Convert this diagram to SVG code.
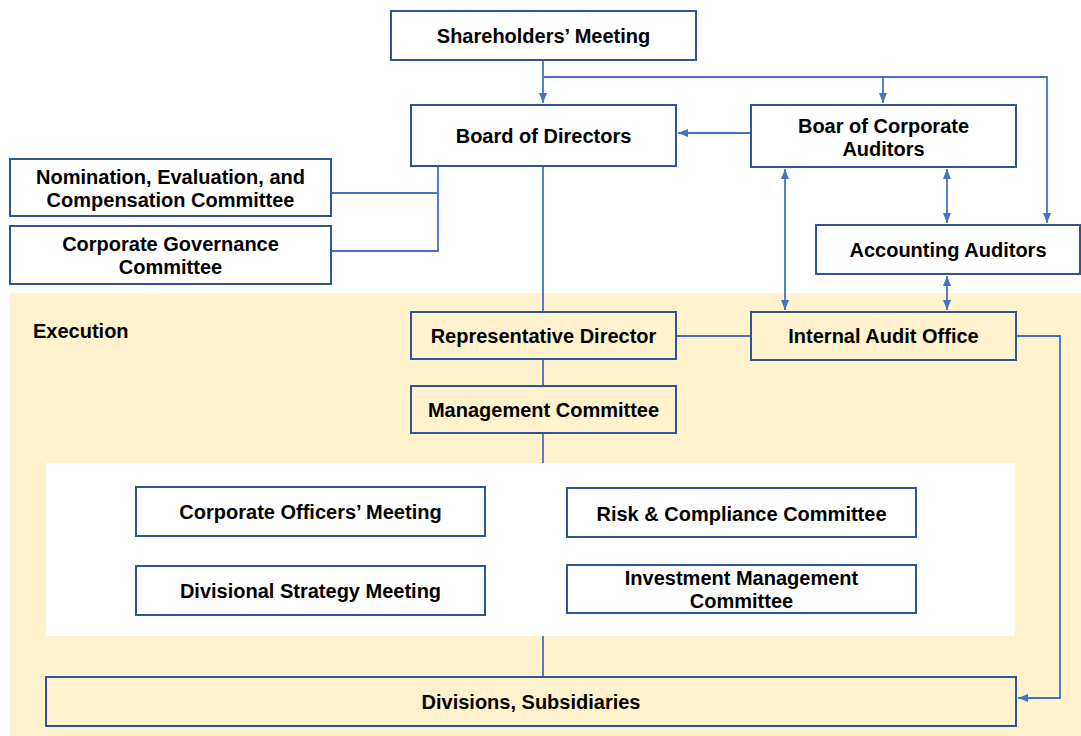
<svg xmlns="http://www.w3.org/2000/svg" width="1081" height="736" viewBox="0 0 1081 736">
<style>
.box{fill:#fff;stroke:#2F5597;stroke-width:2}
.ybox{fill:#FFF2CC;stroke:#2F5597;stroke-width:2}
.t{font-family:"Liberation Sans",Arial,sans-serif;font-weight:bold;font-size:20px;fill:#000;text-anchor:middle}
.c{fill:none;stroke:#4472C4;stroke-width:1.8}
</style>
<defs>
<marker id="a" viewBox="0 0 10 10" refX="10" refY="5" markerWidth="10" markerHeight="10" orient="auto-start-reverse" markerUnits="userSpaceOnUse">
<path d="M0,1 L10,5 L0,9 z" fill="#4472C4"/>
</marker>
</defs>
<rect width="1081" height="736" fill="#fff"/>
<rect x="10" y="293" width="1071" height="443" fill="#FFF2CC"/>
<rect x="46" y="463" width="969" height="173" fill="#fff"/>
<text x="33" y="338" class="t" style="text-anchor:start">Execution</text>
<g id="connectors">
<path class="c" d="M543,60 V103" marker-end="url(#a)"/>
<path class="c" d="M543,77 H1047 V223" marker-end="url(#a)"/>
<path class="c" d="M883,77 V103" marker-end="url(#a)"/>
<path class="c" d="M751,133 H678" marker-end="url(#a)"/>
<path class="c" d="M785,169 V310" marker-start="url(#a)" marker-end="url(#a)"/>
<path class="c" d="M947,169 V223" marker-start="url(#a)" marker-end="url(#a)"/>
<path class="c" d="M947,276 V310" marker-start="url(#a)" marker-end="url(#a)"/>
<path class="c" d="M438,166 V252 M331,193 H438 M331,251 H438"/>
<path class="c" d="M543,166 V312"/>
<path class="c" d="M543,359 V386"/>
<path class="c" d="M543,433 V463"/>
<path class="c" d="M543,636 V677"/>
<path class="c" d="M676,336 H751"/>
<path class="c" d="M1016,336 H1060 V698 H1018" marker-end="url(#a)"/>
</g>
<g id="shareholders"><rect class="box" x="391" y="11" width="305" height="49"/><text class="t" x="543.5" y="43">Shareholders’ Meeting</text></g>
<g id="board"><rect class="box" x="411" y="105" width="265" height="61"/><text class="t" x="543.5" y="143">Board of Directors</text></g>
<g id="auditors"><rect class="box" x="751" y="105" width="265" height="62"/><text class="t" x="883.5" y="133">Boar of Corporate</text><text class="t" x="883.5" y="156">Auditors</text></g>
<g id="nomination"><rect class="box" x="10" y="159" width="321" height="57"/><text class="t" x="170.5" y="184">Nomination, Evaluation, and</text><text class="t" x="170.5" y="207">Compensation Committee</text></g>
<g id="governance"><rect class="box" x="10" y="226" width="321" height="58"/><text class="t" x="170.5" y="251">Corporate Governance</text><text class="t" x="170.5" y="274">Committee</text></g>
<g id="accounting"><rect class="box" x="816" y="225" width="264" height="49"/><text class="t" x="948" y="257">Accounting Auditors</text></g>
<g id="repdirector"><rect class="ybox" x="411" y="312" width="265" height="47"/><text class="t" x="543.5" y="343">Representative Director</text></g>
<g id="internalaudit"><rect class="ybox" x="751" y="312" width="265" height="48"/><text class="t" x="883.5" y="343">Internal Audit Office</text></g>
<g id="management"><rect class="ybox" x="411" y="386" width="265" height="47"/><text class="t" x="543.5" y="417">Management Committee</text></g>
<g id="officers"><rect class="box" x="136" y="487" width="349" height="49"/><text class="t" x="310.5" y="519">Corporate Officers’ Meeting</text></g>
<g id="risk"><rect class="box" x="567" y="488" width="349" height="49"/><text class="t" x="741.5" y="521">Risk &amp; Compliance Committee</text></g>
<g id="divisional"><rect class="box" x="136" y="566" width="349" height="49"/><text class="t" x="310.5" y="598">Divisional Strategy Meeting</text></g>
<g id="investment"><rect class="box" x="567" y="565" width="349" height="48"/><text class="t" x="741.5" y="585">Investment Management</text><text class="t" x="741.5" y="608">Committee</text></g>
<g id="divisions"><rect class="ybox" x="46" y="677" width="970" height="49"/><text class="t" x="531" y="709">Divisions, Subsidiaries</text></g>
</svg>
